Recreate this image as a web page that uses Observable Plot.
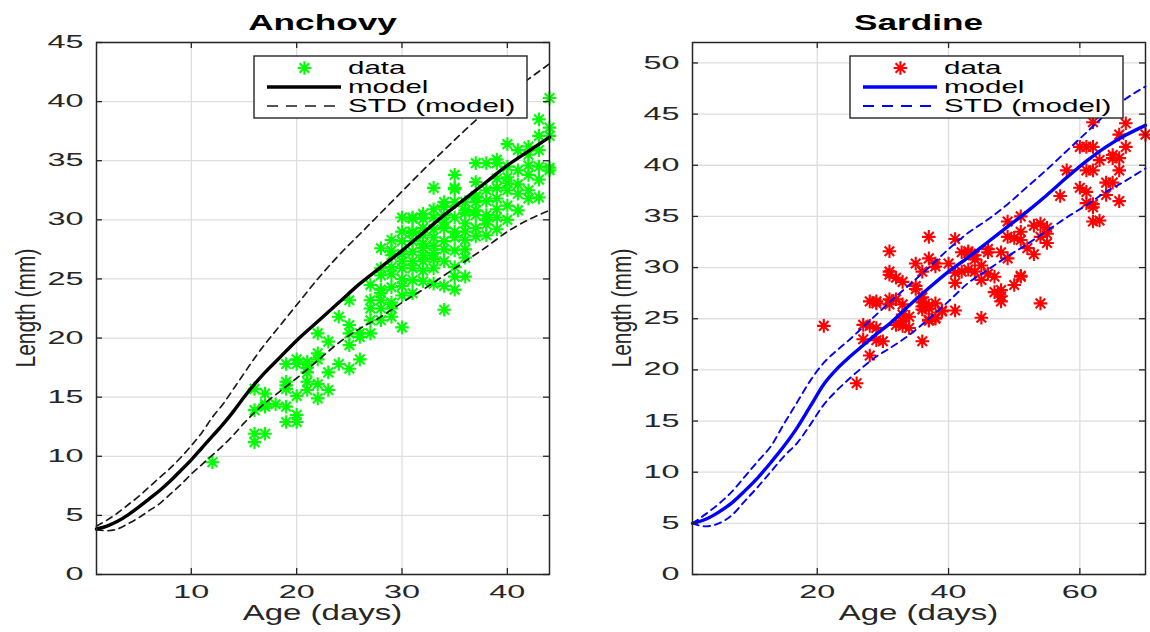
<!DOCTYPE html>
<html>
<head>
<meta charset="utf-8">
<script src="https://cdn.jsdelivr.net/npm/d3@7"></script>
<script src="https://cdn.jsdelivr.net/npm/@observablehq/plot@0.6"></script>
<style>
  body { margin: 0; background: #fff; }
  #wrap { display: flex; width: 1150px; height: 632px; overflow: hidden; }
</style>
</head>
<body>
<div id="wrap"></div>
<script>
// ---------------- DATA ----------------
// Anchovy observations (age in days, length in mm)
const anchovyAge = [
  12,
  16,16,16,16, 17,17,17,17, 18,
  19,19,19,19,19,19, 20,20,20,20,20, 21,21,21,21,21,
  22,22,22,22,22, 23,23,23, 24,24, 25,25,25,25,25, 26,26,26,
  27,27,27, 28,28,28,28,28,28, 29,29,29,29,29,29,29,
  30,30,30,30,30,30,30, 31,31,31,31,31,31,31, 32,32,32,32,32,32,
  33,33,33,33,33,33, 34,34,34,34,34,34, 35,35,35,35,35,35,35,
  36,36,36,36,36,36, 37,37,37,37,37,37, 38,38,38,38,
  39,39,39,39,39,39, 40,40,40,40,40,40,40, 41,41, 42,42,42,
  43,43,43,43,43, 44,44,44,44,44,
  27,27, 28,28, 29,29, 30,30,30, 31,31,31, 32,32,32,32,
  33,33,33,33, 34,34,34,34, 35,35,35,35, 36,36,36, 37,37,37,
  38,38,38, 39,39, 41,41,41, 42,42,42, 43
];
const anchovyLength = [
  9.5,
  15.7,13.9,11.9,11.2, 15.3,14.2,14.4,11.9, 14.4,
  17.8,16.3,15.7,14.2,12.9,16.0, 18.2,17.8,15.1,13.5,12.9, 18.0,17.1,16.3,15.6,17.5,
  20.4,18.7,18.2,16.1,14.9, 19.7,17.1,15.6, 21.8,17.8, 23.2,21.1,20.4,19.4,17.4, 20.4,20.1,18.2,
  23.2,22.5,20.4, 23.2,22.5,21.5,25.3,24.1,27.6, 23.0,21.8,27.4,25.4,24.3,28.3,26.0,
  20.9,28.2,27.1,25.9,24.4,23.6,30.2, 30.1,29.0,28.2,25.9,24.9,30.2,27.3, 30.1,28.7,27.6,26.5,25.7,29.3,
  30.9,29.2,27.8,26.7,25.9,32.7, 30.4,29.3,28.2,24.4,22.4,31.1, 33.8,32.6,31.5,26.0,24.1,32.7,29.0,
  30.6,29.7,26.8,25.2,30.8,28.3, 34.8,31.9,31.5,30.4,29.3,32.0, 30.4,29.6,28.7,34.8,
  34.8,30.9,35.1,32.7,31.8,30.2, 36.4,34.5,33.6,32.5,33.1,31.2,30.0, 35.9,32.2, 35.5,33.8,31.8,
  38.5,37.1,35.9,33.4,31.9, 40.3,37.8,37.1,34.4,34.2,
  24.5,21.5, 25.9,23.8, 27.0,22.5, 29.0,26.5,25.0, 26.5,28.9,23.8, 30.5,27.0,24.8,28.0,
  28.5,27.2,30.2,24.6, 27.5,26.5,29.8,31.5, 30.2,28.5,27.4,25.2, 31.5,27.5,29.0, 30.8,28.6,33.2,
  31.6,32.5,30.0, 33.5,29.2, 34.2,33.0,30.8, 32.5,36.2,34.6, 34.5
];
// Anchovy model and +/- STD curves
const anchovyModelAge   = [1,2,3,4,5,6,7,8,9,10,11,12,13,14,15,16,17,18,19,20,22,24,26,28,30,32,34,36,38,40,42,44];
const anchovyModel      = [3.85,4.1,4.5,5.05,5.7,6.4,7.1,7.9,8.8,9.7,10.7,11.7,12.7,13.8,15.0,16.1,17.1,18.0,18.9,19.8,21.4,23.0,24.6,26.0,27.4,28.9,30.4,31.8,33.2,34.6,35.8,37.0];
const anchovyUpper      = [4.1,4.6,5.2,5.9,6.6,7.4,8.2,9.0,9.9,10.9,12.0,13.3,14.4,15.7,17.0,18.3,19.5,20.6,21.7,22.8,25.0,27.0,28.8,30.6,32.4,34.2,35.9,37.6,39.2,40.6,41.9,43.2];
const anchovyLower      = [3.8,3.7,3.85,4.3,4.8,5.4,6.0,6.8,7.6,8.5,9.3,10.1,10.9,11.8,12.8,13.7,14.5,15.2,15.9,16.6,18.1,19.6,20.8,21.8,23.0,24.1,25.3,26.5,27.7,29.0,30.0,30.8];

// Sardine observations
const sardineAge = [
  21,26,27,27,28,28,29,29,30,28,29,31,29,31,32,32,33,34,33,33,33,
  31,31,32,33,35,31,35,36,37,38,38,40,37,41,43,41,42,43,41,
  36,37,37,38,36,39,41,37,38,36,37,38,39,36,34,35,36,45,48,54,
  47,51,47,48,48,50,42,43,44,44,46,46,45,44,46,45,
  49,51,53,54,55,55,55,49,50,51,52,53,51,48,49,54,51,
  57,58,60,61,61,60,61,62,61,62,62,63,65,66,66,65,64,66,62,62,62,63,64,65,66,67,67,70
];
const sardineLength = [
  24.3,18.7,24.4,23.0,21.4,24.3,24.1,22.9,22.8,26.7,26.5,26.4,26.7,26.9,26.9,24.4,24.8,24.1,24.3,25.4,26.4,
  29.6,29.3,29.0,28.6,28.2,31.6,30.4,29.6,30.9,30.4,30.1,30.4,33.0,32.8,31.6,29.5,29.6,29.8,28.5,
  26.6,26.0,26.3,26.5,26.2,25.8,25.8,24.8,25.0,22.8,24.9,25.1,25.7,25.9,25.2,27.9,27.1,25.1,26.7,26.5,
  29.1,29.1,27.6,27.8,27.2,28.3,31.5,31.4,31.2,29.6,31.5,31.8,30.2,30.8,29.4,28.8,
  34.5,35.0,34.1,34.3,33.9,33.3,32.4,33.0,32.9,32.7,31.9,31.3,33.5,31.5,30.9,33.0,29.2,
  37.0,39.5,37.8,37.4,36.3,41.8,41.8,41.8,39.5,39.5,44.2,40.5,40.7,40.7,39.5,38.3,37.1,36.5,36.2,35.9,34.5,34.6,38.3,41.0,43.0,44.1,41.8,43.0
];
// Sardine model and +/- STD curves
const sardineModelAge = [1,3,5,7,9,11,13,15,17,19,21,23,25,27,29,31,34,37,40,43,46,49,52,55,58,61,64,67,70];
const sardineModel    = [5.0,5.4,6.1,7.0,8.2,9.5,11.0,12.6,14.4,16.5,18.6,20.1,21.3,22.4,23.5,24.5,26.3,28.0,29.6,31.0,32.5,34.0,35.5,37.1,38.8,40.4,41.8,42.95,43.9];
const sardineUpper    = [5.0,5.9,6.9,8.1,9.6,11.1,12.6,14.8,16.9,19.0,20.7,21.9,23.0,24.2,25.4,26.6,28.3,30.0,31.8,33.4,34.7,36.2,37.9,39.6,41.4,43.2,45.0,46.5,47.7];
const sardineLower    = [5.0,4.7,5.0,5.8,7.2,8.6,10.1,11.6,12.9,14.7,16.6,18.0,19.2,20.3,21.3,22.1,23.4,25.0,26.7,28.5,29.8,31.1,32.3,33.6,34.9,36.1,37.4,38.5,39.7];

// Axis ticks
const anchovyXTicks = [10, 20, 30, 40];
const anchovyYTicks = [0, 5, 10, 15, 20, 25, 30, 35, 40, 45];
const sardineXTicks = [20, 40, 60];
const sardineYTicks = [0, 5, 10, 15, 20, 25, 30, 35, 40, 45, 50];

// ---------------- RENDER ----------------
const FONT = "'Liberation Sans', Arial, Helvetica, sans-serif";
const AX = "#262626";
const GRID = "#dedede";

// MATLAB-like '*' marker (8 spokes)
const asterisk = {
  draw(context, size) {
    const r = Math.sqrt(size / Math.PI);
    const d = r * Math.SQRT1_2;
    context.moveTo(-r, 0); context.lineTo(r, 0);
    context.moveTo(0, -r); context.lineTo(0, r);
    context.moveTo(-d, -d); context.lineTo(d, d);
    context.moveTo(-d, d); context.lineTo(d, -d);
  }
};

function stretchText(el, s, rotated) {
  const t = el.getAttribute("transform") || "";
  const x = el.getAttribute("x");
  let pre = "";
  if (x != null && !isNaN(+x)) { pre = ` translate(${+x},0)`; el.removeAttribute("x"); }
  el.setAttribute("transform", t + pre + (rotated ? ` scale(1,${s})` : ` scale(${s},1)`));
}

function panel(cfg) {
  const W = 575, H = 632, mt = 42, mb = 58;
  const {marginLeft, marginRight} = cfg;
  const fw = W - marginLeft - marginRight, fh = H - mt - mb;
  const pts = cfg.age.map((a, i) => ({age: a, len: cfg.len[i]}));
  const mod = cfg.modelAge.map((a, i) => ({age: a, m: cfg.model[i], u: cfg.upper[i], l: cfg.lower[i]}));
  const dashStyle = {stroke: cfg.dashColor, strokeWidth: cfg.dashWidth, strokeDasharray: "6.5,5", curve: "monotone-x"};

  const svg = Plot.plot({
    width: W, height: H,
    marginLeft, marginRight, marginTop: mt, marginBottom: mb,
    x: {domain: cfg.xDomain},
    y: {domain: cfg.yDomain},
    style: {fontFamily: FONT, background: "white", overflow: "visible", color: "#262626"},
    marks: [
      Plot.gridX(cfg.xTicks, {stroke: GRID, strokeOpacity: 1, strokeWidth: 1.3}),
      Plot.gridY(cfg.yTicks, {stroke: GRID, strokeOpacity: 1, strokeWidth: 1.3}),
      Plot.dot(pts, {x: "age", y: "len", symbol: asterisk, r: 6.8, stroke: cfg.dataColor, strokeWidth: 2.1, fill: "none"}),
      Plot.line(mod, {x: "age", y: "u", ...dashStyle}),
      Plot.line(mod, {x: "age", y: "l", ...dashStyle}),
      Plot.line(mod, {x: "age", y: "m", stroke: cfg.lineColor, strokeWidth: 3.4, curve: "monotone-x"}),
      Plot.ruleX(cfg.xTicks, {x: d => d, insetTop: fh - 6, stroke: AX, strokeWidth: 1.3}),
      Plot.ruleX(cfg.xTicks, {x: d => d, insetBottom: fh - 6, stroke: AX, strokeWidth: 1.3}),
      Plot.ruleY(cfg.yTicks, {y: d => d, insetRight: fw - 6, stroke: AX, strokeWidth: 1.3}),
      Plot.ruleY(cfg.yTicks, {y: d => d, insetLeft: fw - 6, stroke: AX, strokeWidth: 1.3}),
      Plot.frame({stroke: AX, strokeWidth: 1.5}),
      Plot.axisX(cfg.xTicks, {tickSize: 0, tickPadding: 11, fontSize: 17.5, label: null, fill: "#262626"}),
      Plot.axisY(cfg.yTicks, {tickSize: 0, tickPadding: 13, fontSize: 17.5, label: null, fill: "#262626"})
    ]
  });

  // widen the tick labels like the reference
  svg.querySelectorAll("text").forEach(el => stretchText(el, 1.85, false));

  const g = d3.select(svg).append("g").attr("font-family", FONT).attr("fill", "#000");
  const cx = marginLeft + fw / 2;

  // title
  const title = g.append("text").attr("text-anchor", "middle").attr("font-weight", "bold")
    .attr("font-size", 22).attr("transform", `translate(${cx},30)`).text(cfg.title);
  stretchText(title.node(), 1.6, false);

  // x label
  const xl = g.append("text").attr("text-anchor", "middle").attr("font-size", 22).attr("fill", "#262626")
    .attr("transform", `translate(${cx},620)`).text("Age (days)");
  stretchText(xl.node(), 1.5, false);

  // y label
  const yl = g.append("text").attr("text-anchor", "middle").attr("font-size", 21).attr("fill", "#262626")
    .attr("transform", `translate(${marginLeft - 61},${mt + fh / 2}) rotate(-90)`).text("Length (mm)");
  stretchText(yl.node(), 1.35, true);

  // legend
  const bw = 273, bh = 62;
  const bx = marginLeft + fw - 22 - bw, by = 56;
  const lg = g.append("g");
  lg.append("rect").attr("x", bx).attr("y", by).attr("width", bw).attr("height", bh)
    .attr("fill", "white").attr("stroke", AX).attr("stroke-width", 1.4);
  const rows = [by + 12, by + 31, by + 50];
  // marker
  const r = 6.8, dd = r * Math.SQRT1_2, mx = bx + 50.4;
  lg.append("path")
    .attr("d", `M${mx - r},${rows[0]}H${mx + r}M${mx},${rows[0] - r}V${rows[0] + r}M${mx - dd},${rows[0] - dd}L${mx + dd},${rows[0] + dd}M${mx - dd},${rows[0] + dd}L${mx + dd},${rows[0] - dd}`)
    .attr("stroke", cfg.dataColor).attr("stroke-width", 2.1).attr("fill", "none");
  lg.append("line").attr("x1", bx + 13).attr("x2", bx + 87).attr("y1", rows[1]).attr("y2", rows[1])
    .attr("stroke", cfg.lineColor).attr("stroke-width", 3.4);
  lg.append("line").attr("x1", bx + 13).attr("x2", bx + 87).attr("y1", rows[2]).attr("y2", rows[2])
    .attr("stroke", cfg.dashColor).attr("stroke-width", cfg.dashWidth).attr("stroke-dasharray", "11,8");
  ["data", "model", "STD (model)"].forEach((label, i) => {
    const t = lg.append("text").attr("text-anchor", "start").attr("font-size", 18).attr("fill", "#000")
      .attr("transform", `translate(${bx + 94},${rows[i] + 6.4})`).text(label);
    stretchText(t.node(), 1.64, false);
  });

  return svg;
}

const wrap = document.getElementById("wrap");
wrap.append(panel({
  title: "Anchovy",
  age: anchovyAge, len: anchovyLength,
  modelAge: anchovyModelAge, model: anchovyModel, upper: anchovyUpper, lower: anchovyLower,
  xDomain: [1, 44], yDomain: [0, 45],
  xTicks: anchovyXTicks, yTicks: anchovyYTicks,
  dataColor: "#00ff00", lineColor: "#000000", dashColor: "#1a1a1a", dashWidth: 1.7,
  marginLeft: 96, marginRight: 26
}));
wrap.append(panel({
  title: "Sardine",
  age: sardineAge, len: sardineLength,
  modelAge: sardineModelAge, model: sardineModel, upper: sardineUpper, lower: sardineLower,
  xDomain: [1, 70], yDomain: [0, 52],
  xTicks: sardineXTicks, yTicks: sardineYTicks,
  dataColor: "#ff0000", lineColor: "#0000ff", dashColor: "#0000ff", dashWidth: 1.9,
  marginLeft: 117, marginRight: 5
}));
</script>
</body>
</html>
